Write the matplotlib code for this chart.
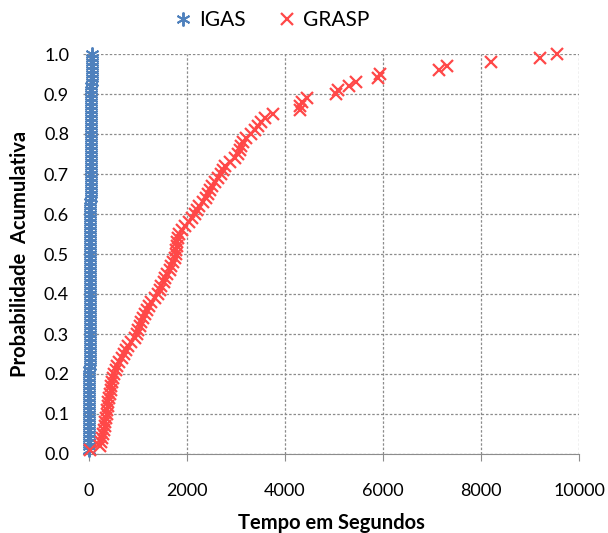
import numpy as np
import matplotlib
matplotlib.use("Agg")
import matplotlib.pyplot as plt

# cumulative probabilities (100 runs each)
prob = [i / 100 for i in range(1, 101)]

# GRASP times (seconds), sorted
grasp_time = [
    30, 230, 250, 270, 290, 310, 320, 330, 345, 360,
    375, 390, 400, 415, 430, 445, 460, 480, 500, 520,
    550, 580, 620, 670, 720, 760, 800, 860, 940, 980,
    1010, 1040, 1070, 1110, 1140, 1180, 1230, 1270, 1340, 1420,
    1450, 1480, 1530, 1560, 1590, 1650, 1680, 1720, 1750, 1770,
    1780, 1790, 1800, 1810, 1830, 1900, 1960, 2040, 2100, 2160,
    2200, 2250, 2320, 2380, 2430, 2480, 2520, 2580, 2640, 2690,
    2740, 2780, 2880, 2980, 3040, 3080, 3110, 3150, 3200, 3300,
    3380, 3450, 3520, 3600, 3750, 4300, 4310, 4350, 4450, 5050,
    5080, 5300, 5460, 5900, 5940, 7150, 7300, 8200, 9200, 9550,
]

# IGAS times (seconds): all very small, stacked near zero
igas_time = [
    2, 3, 3, 4, 4, 5, 5, 6, 6, 7,
    7, 8, 8, 9, 9, 10, 10, 11, 11, 12,
    12, 13, 13, 14, 14, 15, 15, 16, 16, 17,
    17, 18, 18, 19, 19, 20, 20, 21, 21, 22,
    22, 23, 23, 24, 24, 25, 25, 26, 26, 27,
    27, 28, 28, 29, 29, 30, 30, 31, 31, 32,
    32, 33, 33, 34, 34, 35, 35, 36, 36, 37,
    37, 38, 38, 39, 39, 40, 40, 41, 41, 42,
    42, 43, 44, 45, 46, 47, 48, 49, 50, 51,
    52, 53, 54, 55, 56, 57, 58, 59, 60, 62,
]

x_ticks = [0, 2000, 4000, 6000, 8000, 10000]
y_ticks = [0.0, 0.1, 0.2, 0.3, 0.4, 0.5, 0.6, 0.7, 0.8, 0.9, 1.0]

plt.rcParams['font.family'] = ['Lato', 'DejaVu Sans']

fig = plt.figure(figsize=(6.08, 5.33), dpi=100)
ax = fig.add_axes([83 / 608, 1 - 454 / 533, (579 - 83) / 608, 400 / 533])

ax.plot(igas_time, prob, linestyle='none', marker=(6, 2, 0), markersize=10,
        markeredgewidth=1.4, color='#4F81BD', label='IGAS', clip_on=False, zorder=3)
ax.plot(grasp_time, prob, linestyle='none', marker='x', markersize=8.5,
        markeredgewidth=1.6, color='#FF4848', label='GRASP', clip_on=False, zorder=3)

ax.set_xlim(-120, 10000)
ax.set_ylim(0, 1.0)
ax.set_xticks(x_ticks)
ax.set_xticklabels([str(v) for v in x_ticks], fontsize=13)
ax.set_yticks(y_ticks)
ax.set_yticklabels([f"{v:.1f}" for v in y_ticks], fontsize=13)

ax.grid(True, color='#8C8C8C', linestyle=(0, (2, 1.5)), linewidth=0.9)
ax.set_axisbelow(True)
for side in ['top', 'right', 'left']:
    ax.spines[side].set_visible(False)
ax.spines['bottom'].set_color('#8C8C8C')
ax.tick_params(axis='x', length=5, color='#8C8C8C', pad=16)
ax.tick_params(axis='y', length=0, pad=10)

ax.set_xlabel('Tempo em Segundos', fontsize=14.5, fontweight='bold', labelpad=10)
ax.set_ylabel('Probabilidade  Acumulativa', fontsize=14.5, fontweight='bold', labelpad=10)

fig.legend(loc='center', bbox_to_anchor=(271 / 608, 1 - 20 / 533), ncol=2,
           frameon=False, fontsize=15, handletextpad=0.25, columnspacing=1.5,
           markerscale=1.0, handlelength=1.0)

fig.savefig('out.png', dpi=100)
